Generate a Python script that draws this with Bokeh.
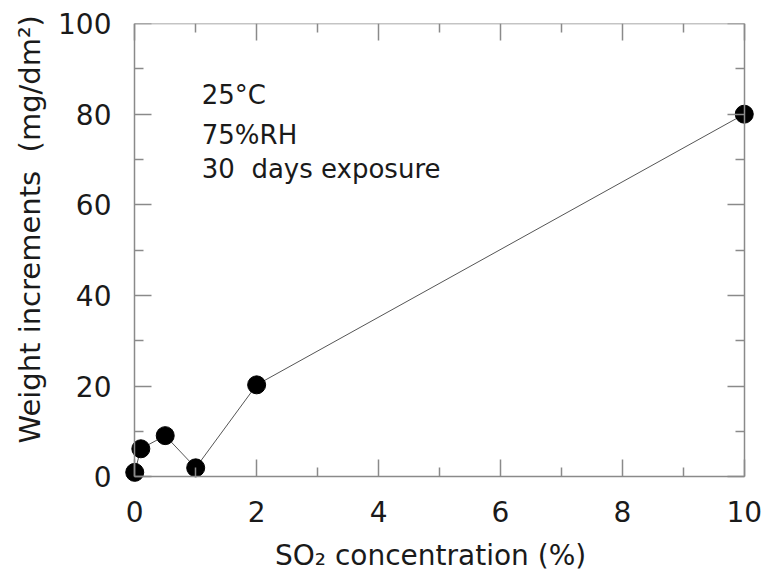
from bokeh.plotting import figure
from bokeh.models import Range1d, LinearAxis, Label, FixedTicker, CustomJSTickFormatter
from bokeh.embed import file_html
from bokeh.resources import INLINE

# Data
so2_conc = [0.0, 0.1, 0.5, 1.0, 2.0, 10.0]          # SO2 concentration (%)
weight_inc = [1.0, 6.2, 9.1, 2.0, 20.3, 80.0]        # weight increments (mg/dm2)
x_ticks = [0, 2, 4, 6, 8, 10]
y_ticks = [0, 20, 40, 60, 80, 100]
x_minor = [1, 3, 5, 7, 9]
y_minor = [10, 30, 50, 70, 90]
notes = ["25°C", "75%RH", "30\u00a0\u00a0days exposure"]
x_title = "SO₂ concentration (%)"
y_title = "Weight increments\u00a0\u00a0(mg/dm²)"

NB = "\u00a0"
FONT = "DejaVu Sans"
AX_COL = "#8a8a8a"
TXT_COL = "#1a1a1a"

# ranges padded a little so the end markers are not clipped; box axes sit at 0..10 / 0..100
p = figure(width=767, height=579, x_range=Range1d(-0.25, 10.25), y_range=Range1d(-3, 100),
           output_backend="svg", toolbar_location=None,
           min_border_left=119, min_border_right=8, min_border_top=23, min_border_bottom=89)
p.xgrid.visible = False
p.ygrid.visible = False
p.outline_line_color = None
p.background_fill_color = "white"
p.border_fill_color = "white"

# labelled axes (text only)
def label_axis(ax, ticks, bounds, standoff, label, label_standoff, label_size):
    ax.ticker = FixedTicker(ticks=ticks)
    ax.bounds = bounds
    ax.axis_line_color = None
    ax.major_tick_line_color = None
    ax.minor_tick_line_color = None
    ax.major_tick_in = 0
    ax.major_tick_out = 0
    ax.minor_tick_in = 0
    ax.minor_tick_out = 0
    ax.major_label_standoff = standoff
    ax.major_label_text_font = FONT
    ax.major_label_text_font_size = "28px"
    ax.major_label_text_color = TXT_COL
    ax.axis_label = label
    ax.axis_label_standoff = label_standoff
    ax.axis_label_text_font = FONT
    ax.axis_label_text_font_size = label_size
    ax.axis_label_text_font_style = "normal"
    ax.axis_label_text_color = TXT_COL

label_axis(p.xaxis[0], x_ticks, (0, 10), 10, x_title + NB * 2, 14, "28px")
label_axis(p.yaxis[0], y_ticks, (0, 100), 8, NB * 6 + y_title, 8, "29px")

# box lines and inward ticks on all four sides
def box_axis(ticks, minor, loc, bounds):
    ax = LinearAxis(fixed_location=loc, bounds=bounds,
                    ticker=FixedTicker(ticks=ticks, minor_ticks=minor),
                    formatter=CustomJSTickFormatter(code="return ''"))
    ax.axis_line_color = AX_COL
    ax.axis_line_width = 1.5
    ax.major_tick_line_color = AX_COL
    ax.minor_tick_line_color = AX_COL
    ax.major_tick_line_width = 1.5
    ax.minor_tick_line_width = 1.5
    ax.major_tick_in = 17
    ax.major_tick_out = 0
    ax.minor_tick_in = 9
    ax.minor_tick_out = 0
    ax.major_label_standoff = 0
    return ax

p.add_layout(box_axis(x_ticks, x_minor, 0, (0, 10)), "below")
p.add_layout(box_axis(y_ticks, y_minor, 0, (0, 100)), "left")
p.add_layout(box_axis(x_ticks, x_minor, 100, (0, 10)), "above")
p.add_layout(box_axis(y_ticks, y_minor, 10, (0, 100)), "right")

p.line(so2_conc, weight_inc, line_color="#555555", line_width=1)
p.scatter(so2_conc, weight_inc, size=18, fill_color="black", line_color="black")

note_y = [84.3, 75.5, 67.8]
for txt, yy in zip(notes, note_y):
    p.add_layout(Label(x=1.1, y=yy, text=txt, text_font=FONT, text_font_size="26px",
                       text_color=TXT_COL, text_baseline="alphabetic", text_align="left"))

open("out.html", "w").write(file_html(p, INLINE))
